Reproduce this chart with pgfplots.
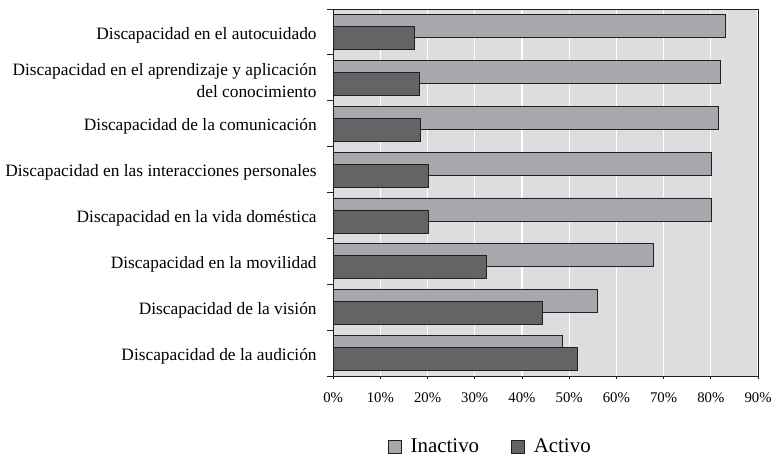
\documentclass[border=0pt]{standalone}
\usepackage{fontspec}
\setmainfont{Liberation Serif}
\usepackage{pgfplots}
\pgfplotsset{compat=1.18}
\definecolor{bg}{HTML}{DCDDDF}
\definecolor{inact}{HTML}{A7A8AB}
\definecolor{act}{HTML}{636466}
\definecolor{edge}{HTML}{231F20}
\begin{document}
\begin{tikzpicture}
\begin{axis}[
  scale only axis, width=426pt, height=368pt,
  xbar, bar width=23pt,
  xmin=0, xmax=90, ymin=-0.5, ymax=7.5,
  xtick={0,10,...,90},
  xticklabel={\pgfmathprintnumber{\tick}\%},
  /pgf/number format/assume math mode=true,
  ytick={0,...,7},
  yticklabels={Discapacidad de la audición,
    Discapacidad de la visión,
    Discapacidad en la movilidad,
    Discapacidad en la vida doméstica,
    Discapacidad en las interacciones personales,
    Discapacidad de la comunicación,
    {Discapacidad en el aprendizaje y aplicación\\del conocimiento},
    Discapacidad en el autocuidado},
  minor ytick={-0.5,0.5,...,7.5},
  major y tick style={draw=none},
  xtick pos=bottom, ytick pos=left,
  tick align=outside, major tick length=3pt, minor tick length=6pt,
  tick style={edge, line width=0.8pt},
  y tick label style={font=\fontsize{17.4}{22}\selectfont, align=right, xshift=-10pt, yshift=-3pt},
  x tick label style={font=\fontsize{14.8}{17}\selectfont, yshift=-10pt},
  axis background/.style={fill=bg},
  xmajorgrids, grid style={white, line width=1.2pt},
  axis line style={edge, line width=0.8pt},
  legend columns=2,
  legend style={at={(0.37,-0.192)}, anchor=center, draw=none, fill=none,
    font=\fontsize{21}{24}\selectfont,
    /tikz/every even column/.append style={column sep=30pt}},
  legend image code/.code={\draw[#1, line width=0.6pt] (0pt,-6.5pt) rectangle (13pt,6.5pt); \path (20pt,0pt);},
]
\addplot[fill=inact, draw=edge, line width=0.8pt, bar shift=6pt]
  coordinates {(48.5,0) (55.9,1) (67.8,2) (80.1,3) (80.1,4) (81.7,5) (82.0,6) (83.0,7)};
\addplot[fill=act, draw=edge, line width=0.8pt, bar shift=-6pt]
  coordinates {(51.7,0) (44.3,1) (32.4,2) (20.1,3) (20.1,4) (18.5,5) (18.2,6) (17.3,7)};
\legend{Inactivo, Activo}
\end{axis}
\pgfresetboundingbox
\path (-334pt,-81pt) rectangle (439pt,377pt);
\end{tikzpicture}
\end{document}
